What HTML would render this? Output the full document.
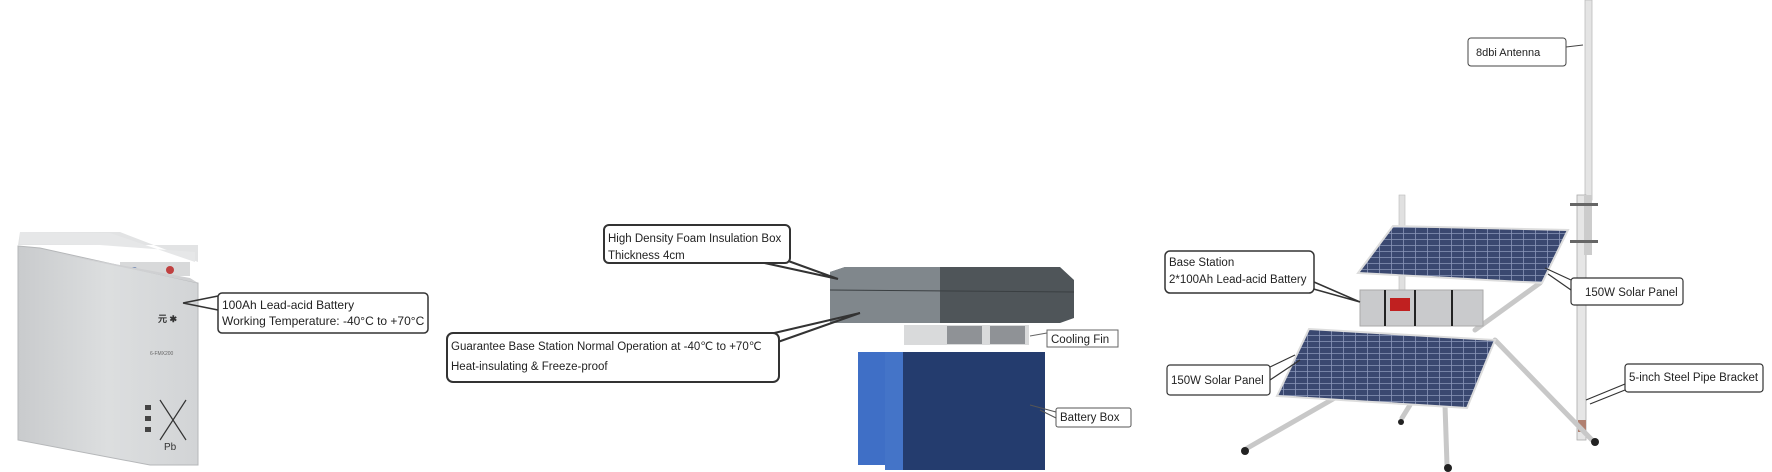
<!DOCTYPE html>
<html><head><meta charset="utf-8"><style>
html,body{margin:0;padding:0;background:#fff;}
svg{display:block;font-family:"Liberation Sans",sans-serif;}
</style></head><body>
<svg width="1772" height="472" viewBox="0 0 1772 472" xmlns="http://www.w3.org/2000/svg">
<defs>
<pattern id="cells" width="12" height="6" patternUnits="userSpaceOnUse">
<rect width="12" height="6" fill="#3a4870"/>
<path d="M0 5.5H12M11.5 0V6" stroke="#8a96b8" stroke-width="0.8"/>
</pattern>
<linearGradient id="bat" x1="0" x2="1"><stop offset="0" stop-color="#c9cbcd"/><stop offset="0.5" stop-color="#dcdedf"/><stop offset="1" stop-color="#d2d4d6"/></linearGradient>
</defs>

<!-- Battery left -->
<polygon points="20,232 120,232 198,262 198,245 18,245" fill="#e2e3e4"/>
<polygon points="20,232 110,233 195,262 195,252 100,245 20,244" fill="#e6e7e8"/>
<rect x="120" y="262" width="70" height="14" fill="#d8d9da"/>
<circle cx="134" cy="271" r="4" fill="#4a6aa8"/><circle cx="170" cy="270" r="4" fill="#c04040"/>
<polygon points="18,246 40,248 198,283 198,465 150,465 18,440" fill="url(#bat)" stroke="#b5b7b9"/>
<polygon points="18,246 190,278 198,283 40,250" fill="#cfd0d2"/>
<text x="158" y="322" font-size="9" font-weight="bold" fill="#333">元 ✱</text>
<text x="150" y="355" font-size="5" fill="#666">6-FMX200</text>
<rect x="145" y="405" width="6" height="5" fill="#444"/><rect x="145" y="416" width="6" height="5" fill="#444"/><rect x="145" y="427" width="6" height="5" fill="#444"/>
<path d="M160 400 L186 440 M186 400 L160 440" stroke="#333" stroke-width="1.2"/>
<text x="164" y="450" font-size="10" fill="#333">Pb</text>

<!-- callout battery -->
<path d="M183 303 L218 296 M183 303 L218 310" stroke="#333" stroke-width="1.5"/>
<rect x="218" y="293" width="210" height="40" rx="4" fill="#fff" stroke="#333" stroke-width="1.5"/>
<text x="222" y="309" font-size="12" fill="#222">100Ah Lead-acid Battery</text>
<text x="222" y="325" font-size="12" fill="#222">Working Temperature: -40°C to +70°C</text>

<!-- Foam box -->
<polygon points="830,272 845,267 1060,267 1074,280 1074,318 1060,323 830,323" fill="#4f5559"/>
<polygon points="830,272 845,267 940,267 940,323 830,323" fill="#80878c"/>
<line x1="830" y1="290" x2="1074" y2="292" stroke="#3a3f42" stroke-width="1"/>
<!-- cooling fin -->
<rect x="904" y="325" width="125" height="20" fill="#d9dadb"/>
<rect x="947" y="326" width="35" height="18" fill="#8f9296"/>
<rect x="990" y="326" width="35" height="18" fill="#8f9296"/>
<!-- battery box -->
<rect x="858" y="352" width="30" height="113" fill="#3f6fc6"/>
<rect x="885" y="352" width="20" height="118" fill="#4474c8"/>
<rect x="903" y="352" width="142" height="118" fill="#243c6e"/>

<!-- foam callout -->
<path d="M760 262 L838 279 M780 258 L838 279" stroke="#333" stroke-width="2"/>
<rect x="604" y="225" width="186" height="38" rx="5" fill="#fff" stroke="#333" stroke-width="2"/>
<text x="608" y="242" font-size="11.5" fill="#222">High Density Foam Insulation Box</text>
<text x="608" y="259" font-size="11.5" fill="#222">Thickness 4cm</text>
<!-- guarantee callout -->
<path d="M770 334 L860 313 M775 343 L860 313" stroke="#333" stroke-width="2"/>
<rect x="447" y="333" width="332" height="49" rx="6" fill="#fff" stroke="#333" stroke-width="2"/>
<text x="451" y="350" font-size="11.5" fill="#222">Guarantee Base Station Normal Operation at -40℃  to +70℃</text>
<text x="451" y="370" font-size="11.5" fill="#222">Heat-insulating &amp; Freeze-proof</text>
<!-- cooling fin label -->
<path d="M1030 336 L1047 333 L1047 340" stroke="#666" fill="none"/>
<rect x="1047" y="330" width="71" height="17" fill="#fff" stroke="#666"/>
<text x="1051" y="343" font-size="11.5" fill="#222">Cooling Fin</text>
<!-- battery box label -->
<path d="M1030 405 L1056 412 M1040 410 L1056 418" stroke="#555"/>
<rect x="1056" y="408" width="75" height="19" rx="2" fill="#fff" stroke="#555"/>
<text x="1060" y="421" font-size="11.5" fill="#222">Battery Box</text>

<!-- RIGHT: solar station -->
<!-- antenna pole -->
<rect x="1585" y="0" width="7" height="200" fill="#e4e4e4" stroke="#bbb" stroke-width="0.8"/>
<rect x="1577" y="195" width="9" height="245" fill="#e6e6e6" stroke="#aaa" stroke-width="0.8"/>
<rect x="1584" y="195" width="8" height="60" fill="#ccc"/>
<rect x="1570" y="203" width="28" height="3" fill="#666"/>
<rect x="1570" y="240" width="28" height="3" fill="#666"/>
<rect x="1578" y="420" width="8" height="12" fill="#b08070"/>
<!-- back mast -->
<rect x="1399" y="195" width="6" height="110" fill="#e0e0e0" stroke="#bbb" stroke-width="0.6"/>
<!-- legs -->
<g stroke="#c8c8c8" stroke-width="5" stroke-linecap="round">
<line x1="1340" y1="395" x2="1244" y2="450"/>
<line x1="1445" y1="405" x2="1447" y2="465"/>
<line x1="1495" y1="340" x2="1592" y2="440"/>
<line x1="1410" y1="405" x2="1402" y2="418"/>
<line x1="1475" y1="330" x2="1540" y2="283"/>
</g>
<g fill="#222"><circle cx="1245" cy="451" r="4"/><circle cx="1448" cy="468" r="4"/><circle cx="1595" cy="442" r="4"/><circle cx="1401" cy="422" r="3"/></g>
<!-- upper panel -->
<polygon points="1393,226 1568,230 1542,283 1358,273" fill="url(#cells)" stroke="#ddd" stroke-width="2"/>
<!-- bag -->
<rect x="1360" y="290" width="123" height="36" fill="#c9cacc" stroke="#aaa"/>
<line x1="1385" y1="290" x2="1385" y2="326" stroke="#222" stroke-width="2"/>
<line x1="1415" y1="290" x2="1415" y2="326" stroke="#222" stroke-width="2"/>
<line x1="1452" y1="290" x2="1452" y2="326" stroke="#222" stroke-width="2"/>
<rect x="1390" y="298" width="20" height="13" fill="#c02020"/>
<!-- lower panel -->
<polygon points="1309,329 1495,340 1467,408 1277,396" fill="url(#cells)" stroke="#ddd" stroke-width="2"/>

<!-- callouts right -->
<path d="M1566 47 L1583 45" stroke="#444"/>
<rect x="1468" y="38" width="98" height="28" rx="3" fill="#fff" stroke="#444"/>
<text x="1476" y="56" font-size="11" fill="#222">8dbi Antenna</text>

<path d="M1314 282 L1360 302 M1310 288 L1360 302" stroke="#333" stroke-width="1.5"/>
<rect x="1165" y="251" width="149" height="42" rx="5" fill="#fff" stroke="#333" stroke-width="1.5"/>
<text x="1169" y="266" font-size="11.5" fill="#222">Base Station</text>
<text x="1169" y="283" font-size="11.5" fill="#222">2*100Ah Lead-acid Battery</text>

<path d="M1545 268 L1571 280 M1548 274 L1571 290" stroke="#333" stroke-width="1.2"/>
<rect x="1571" y="278" width="112" height="27" rx="3" fill="#fff" stroke="#333" stroke-width="1.2"/>
<text x="1585" y="296" font-size="11.5" fill="#222">150W Solar Panel</text>

<path d="M1295 355 L1270 367 M1300 360 L1270 380" stroke="#333" stroke-width="1.2"/>
<rect x="1167" y="365" width="103" height="30" rx="3" fill="#fff" stroke="#333" stroke-width="1.2"/>
<text x="1171" y="384" font-size="11.5" fill="#222">150W Solar Panel</text>

<path d="M1586 400 L1625 384 M1590 404 L1625 390" stroke="#333" stroke-width="1.2"/>
<rect x="1625" y="364" width="138" height="28" rx="3" fill="#fff" stroke="#333" stroke-width="1.2"/>
<text x="1629" y="381" font-size="11.5" fill="#222">5-inch Steel Pipe Bracket</text>
</svg>
</body></html>
